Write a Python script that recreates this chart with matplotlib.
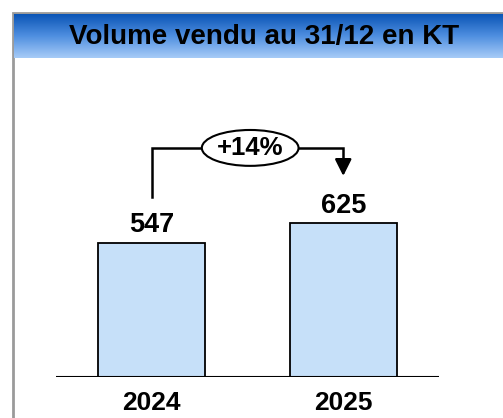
import matplotlib
matplotlib.use("Agg")
import matplotlib.pyplot as plt
from matplotlib.patches import Ellipse, Rectangle
from matplotlib.colors import LinearSegmentedColormap
import numpy as np

title = "Volume vendu au 31/12 en KT"
years = ["2024", "2025"]
volumes = [547, 625]
growth = "+14%"

W, H = 503, 418
fig = plt.figure(figsize=(W / 100, H / 100), dpi=100)
plt.rcParams['font.family'] = ['Liberation Sans', 'DejaVu Sans']


def fx(px):
    return px / W


def fy(py):
    return 1 - py / H


# frame + header band with gradient
bg = fig.add_axes([0, 0, 1, 1])
bg.set_xlim(0, W)
bg.set_ylim(H, 0)
bg.axis('off')
bg.add_patch(Rectangle((13, 13), W, H, facecolor='white', edgecolor='#9a9a9a', lw=2))
cmap = LinearSegmentedColormap.from_list('hdr', ['#0b55b6', '#4f8fe0', '#a6cbf7'])
grad = np.linspace(0, 1, 100).reshape(-1, 1)
bg.imshow(grad, cmap=cmap, aspect='auto', extent=(14, W, 58, 14), zorder=2)
bg.text(264, 37, title, ha='center', va='center', fontsize=20, fontweight='bold', zorder=3)

# bar axes: baseline at y=377px, x from 56 to 439px
scale = 0.2458  # px per unit
ymax = 1000
ax = fig.add_axes([fx(56), fy(377), fx(439 - 56), ymax * scale / H])
ax.set_xlim(-0.5, 1.5)
ax.set_ylim(0, ymax)
ax.axis('off')
x = np.arange(len(years))
ax.bar(x, volumes, width=0.56, color='#c6e0f9', edgecolor='black', linewidth=1.3, zorder=2)
ax.axhline(0, color='black', lw=1.5, zorder=3)

for xi, v, yr in zip(x, volumes, years):
    ax.text(xi, v + 70, str(v), ha='center', va='center', fontsize=19.5, fontweight='bold')
    ax.text(xi, -104, yr, ha='center', va='center', fontsize=19, fontweight='bold', clip_on=False)

# growth bracket
top = 932
ax.plot([0, 0, 1, 1], [732, top, top, 850], color='black', lw=1.8, clip_on=False,
        solid_joinstyle='miter')
ax.annotate('', xy=(1, 818), xytext=(1, 880),
            arrowprops=dict(arrowstyle='-|>,head_length=1.0,head_width=0.5', color='black',
                            lw=1.8, shrinkA=0, shrinkB=0), annotation_clip=False)
ax.add_patch(Ellipse((0.514, top), 0.505, 146, facecolor='white', edgecolor='black',
                     lw=1.5, clip_on=False, zorder=4))
ax.text(0.514, top, growth, ha='center', va='center', fontsize=18.5, fontweight='bold', zorder=5)

fig.savefig('out.png', dpi=100)
